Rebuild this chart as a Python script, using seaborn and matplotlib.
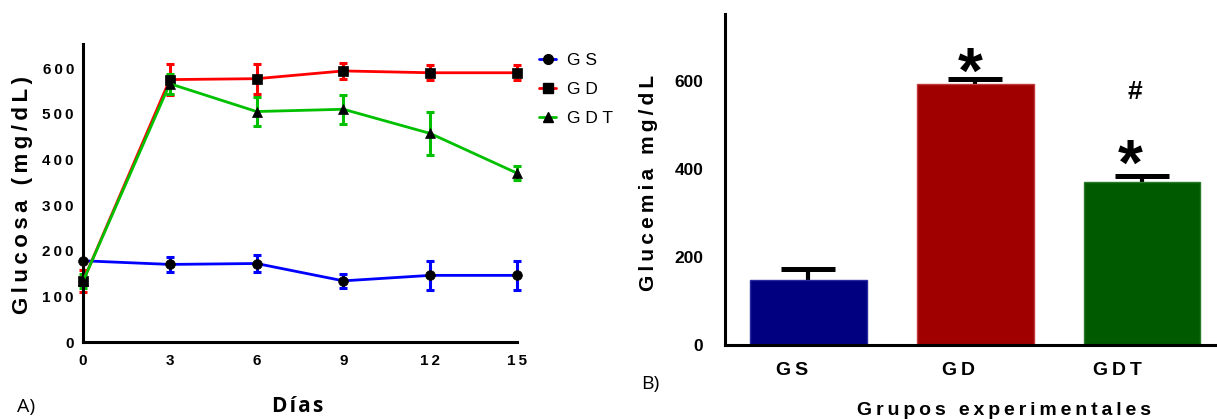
import numpy as np
import pandas as pd
import matplotlib
matplotlib.use("Agg")
import matplotlib.pyplot as plt
import matplotlib.transforms as mtransforms
from matplotlib.lines import Line2D
import seaborn as sns

# ---------------- data ----------------
dias = [0, 3, 6, 9, 12, 15]
grupos = ["GS", "GD", "GDT"]
gs_media = [178, 170, 172, 134, 146, 146]
gs_err = [0, 17, 18, 16, 31, 31]
gd_media = [133, 575, 577, 594, 590, 590]
gd_err = [24, 34, 33, 17, 16, 16]
gdt_media = [133, 566, 505, 510, 457, 370]
gdt_err = [15, 22, 32, 32, 47, 16]

barras_media = [148, 593, 371]
barras_err = [25, 12, 14]

y_ticks_a = [0, 100, 200, 300, 400, 500, 600]
y_ticks_b = [0, 200, 400, 600]

# significance marks (category position, y value, text)
marcas_x = [0.97, 1.93, 1.96]
marcas_y = [612, 403, 575]
marcas_txt = ["*", "*", "#"]

line_colors = {"GS": "#0000FF", "GD": "#FF0000", "GDT": "#00C000"}
bar_colors = ["#000080", "#A00000", "#005A00"]
bar_edges = ["#2A2AA0", "#C03A3A", "#2A7A2A"]
markers = {"GS": "o", "GD": "s", "GDT": "^"}

sns.set_theme(style="white")
plt.rcParams["font.family"] = ["Liberation Sans", "DejaVu Sans"]
plt.rcParams["text.color"] = "black"
plt.rcParams["axes.labelcolor"] = "black"
plt.rcParams["xtick.color"] = "black"
plt.rcParams["ytick.color"] = "black"

W, H = 1217, 419
fig = plt.figure(figsize=(W / 100, H / 100), dpi=100)

def sp(s, sep="\u2009"):
    return sep.join(list(s))

# ---------------- panel A ----------------
ax1 = fig.add_axes([83 / W, 1 - 342 / H, 434 / W, 298 / H])
df = pd.DataFrame({
    "dia": dias * 3,
    "glucosa": gs_media + gd_media + gdt_media,
    "err": gs_err + gd_err + gdt_err,
    "grupo": ["GS"] * 6 + ["GD"] * 6 + ["GDT"] * 6,
})

for g in grupos:
    sub = df[df.grupo == g]
    ax1.errorbar(sub["dia"], sub["glucosa"], yerr=sub["err"], fmt="none",
                 ecolor=line_colors[g], elinewidth=2.2, capsize=3,
                 capthick=2.2, zorder=2, clip_on=False)

sns.lineplot(data=df, x="dia", y="glucosa", hue="grupo", style="grupo",
             markers=markers, dashes=False, palette=line_colors,
             hue_order=grupos, style_order=grupos,
             markerfacecolor="black", markeredgecolor="black",
             markeredgewidth=0.5, markersize=7, linewidth=2.0,
             legend=False, ax=ax1, zorder=3, clip_on=False)

ax1.set_xlim(0, 15)
ax1.set_ylim(0, 653)
ax1.set_xticks(dias)
ax1.set_xticklabels([sp(str(d)) for d in dias], fontsize=11, fontweight="bold")
ax1.set_yticks(y_ticks_a)
ax1.set_yticklabels([sp(str(v)) for v in y_ticks_a], fontsize=11, fontweight="bold")
ax1.set_xlabel("")
ax1.set_ylabel("")
for s in ["top", "right"]:
    ax1.spines[s].set_visible(False)
for s in ["left", "bottom"]:
    ax1.spines[s].set_linewidth(2.2)
    ax1.spines[s].set_color("black")
ax1.tick_params(axis="both", direction="out", length=3.5, width=2.0,
                color="black", pad=3, labelcolor="black")
ax1.tick_params(axis="x", pad=5)

handles = [Line2D([], [], color=line_colors[g], marker=markers[g],
                  markerfacecolor="black", markeredgecolor="black",
                  markersize=7, linewidth=2.0) for g in grupos]
fig.legend(handles, [sp(g, " ") for g in grupos], loc="upper left",
           bbox_to_anchor=(539 / W, 1 - 53 / H), frameon=False,
           fontsize=12.5, handlelength=1.0, handletextpad=0.6,
           labelspacing=0.8, borderpad=0, borderaxespad=0)

fig.text(23 / W, 1 - 195 / H, sp("Glucosa (mg/dL)"), rotation=90,
         ha="center", va="center", fontsize=16, fontweight="bold")
fig.text(298 / W, 1 - 406 / H, sp("Días", "\u200a"), ha="center", va="center",
         fontsize=15, fontweight="bold", family=["Open Sans", "DejaVu Sans"])
fig.text(17 / W, 1 - 407 / H, "A)", ha="left", va="center",
         fontsize=14, family=["Open Sans", "DejaVu Sans"])

# ---------------- panel B ----------------
ax2 = fig.add_axes([725 / W, 1 - 345 / H, 492 / W, 331 / H])
ax2.errorbar(range(len(grupos)), barras_media, yerr=barras_err, fmt="none",
             ecolor="black", elinewidth=3.0, capsize=19.5, capthick=3.6,
             zorder=0.5)
sns.barplot(x=grupos, y=barras_media, hue=grupos, palette=bar_colors,
            saturation=1, width=0.7, legend=False, ax=ax2, zorder=1,
            errorbar=None)
for p, ec in zip(ax2.patches, bar_edges):
    p.set_edgecolor(ec)
    p.set_linewidth(1.0)

for xm, ym, t in zip(marcas_x, marcas_y, marcas_txt):
    if t == "*":
        ax2.text(xm, ym, t, ha="center", va="center", fontsize=46,
                 fontweight="bold", color="black", family=["Liberation Sans"])
    else:
        ax2.text(xm, ym, t, ha="center", va="center", fontsize=19,
                 fontweight="bold", color="black")

ax2.set_xlim(-0.5, 2.45)
ax2.set_ylim(0, 752)
ax2.set_yticks(y_ticks_b)
ax2.set_yticklabels([str(v) for v in y_ticks_b], fontsize=12.5, fontweight="bold")
ax2.set_xticks(range(len(grupos)))
ax2.set_xticklabels([sp(g) for g in grupos], fontsize=14, fontweight="bold", ha="right")
off = mtransforms.ScaledTranslation(-5 / 100, 0, fig.dpi_scale_trans)
for lbl in ax2.get_xticklabels():
    lbl.set_transform(lbl.get_transform() + off)
ax2.set_xlabel("")
ax2.set_ylabel("")
for s in ["top", "right"]:
    ax2.spines[s].set_visible(False)
for s in ["left", "bottom"]:
    ax2.spines[s].set_linewidth(2.2)
    ax2.spines[s].set_color("black")
ax2.tick_params(axis="both", direction="out", length=6.5, width=2.2,
                color="black", labelcolor="black")
ax2.tick_params(axis="y", pad=9)
ax2.tick_params(axis="x", pad=6)

fig.text(648 / W, 1 - 183 / H, sp("Glucemia mg/dL"), rotation=90,
         ha="center", va="center", fontsize=15, fontweight="bold")
fig.text(1004 / W, 1 - 410 / H, sp("Grupos experimentales"), ha="center",
         va="center", fontsize=14, fontweight="bold")
fig.text(641 / W, 1 - 384 / H, "B)", ha="left", va="center",
         fontsize=14, family=["Open Sans", "DejaVu Sans"])

fig.savefig("out.png", dpi=100)
